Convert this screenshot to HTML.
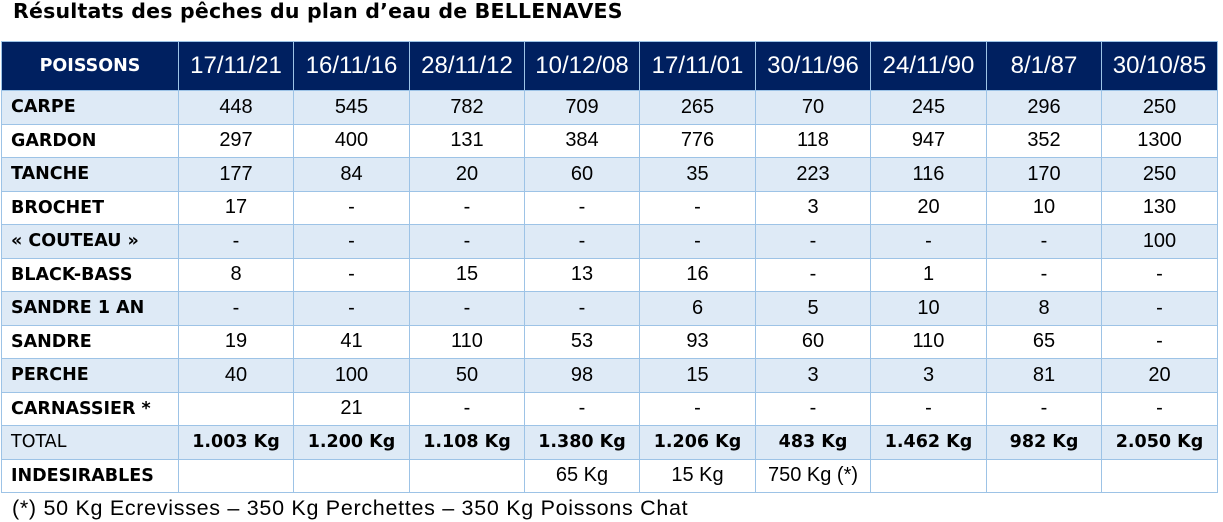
<!DOCTYPE html>
<html><head><meta charset="utf-8"><style>
body{margin:0;width:1223px;height:522px;background:#fff;overflow:hidden;font-family:"DejaVu Sans","Liberation Sans",sans-serif;position:relative}
.title{position:absolute;left:13px;top:-1px;font-size:20.5px;font-weight:bold;color:#000;letter-spacing:0.2px}
table{position:absolute;left:1px;top:41px;border-collapse:collapse;table-layout:fixed}
td{border:1.5px solid #9dc3e6;text-align:center;font-family:"Liberation Sans",sans-serif;font-size:20px;color:#000;padding:0;height:32.5px;white-space:nowrap}
tr.h td{background:#002060;color:#fff;font-size:24px;height:48px;border-color:#9dc3e6}
tr.h td.f{font-family:"DejaVu Sans",sans-serif;font-weight:bold;font-size:17.5px}
td.f{text-align:left;padding-left:9px;font-family:"DejaVu Sans",sans-serif;font-weight:bold;font-size:17.5px}
tr.a td{background:#deeaf6}
td.b{font-family:"DejaVu Sans",sans-serif;font-weight:bold;font-size:17.5px}
.foot{position:absolute;left:12px;top:496px;font-family:"Liberation Sans",sans-serif;font-size:21.5px;letter-spacing:0.7px}
</style></head><body>
<div class="title">Résultats des pêches du plan d’eau de BELLENAVES</div>
<table>
<colgroup><col style="width:177px"><col style="width:115px"><col style="width:116px"><col style="width:115px"><col style="width:115px"><col style="width:116px"><col style="width:115px"><col style="width:116px"><col style="width:115px"><col style="width:116px"></colgroup>
<tr class="h"><td class="f" style="text-align:center;padding-left:0">POISSONS</td><td>17/11/21</td><td>16/11/16</td><td>28/11/12</td><td>10/12/08</td><td>17/11/01</td><td>30/11/96</td><td>24/11/90</td><td>8/1/87</td><td>30/10/85</td></tr>
<tr class="a"><td class="f">CARPE</td><td>448</td><td>545</td><td>782</td><td>709</td><td>265</td><td>70</td><td>245</td><td>296</td><td>250</td></tr>
<tr><td class="f">GARDON</td><td>297</td><td>400</td><td>131</td><td>384</td><td>776</td><td>118</td><td>947</td><td>352</td><td>1300</td></tr>
<tr class="a"><td class="f">TANCHE</td><td>177</td><td>84</td><td>20</td><td>60</td><td>35</td><td>223</td><td>116</td><td>170</td><td>250</td></tr>
<tr><td class="f">BROCHET</td><td>17</td><td>-</td><td>-</td><td>-</td><td>-</td><td>3</td><td>20</td><td>10</td><td>130</td></tr>
<tr class="a"><td class="f">« COUTEAU »</td><td>-</td><td>-</td><td>-</td><td>-</td><td>-</td><td>-</td><td>-</td><td>-</td><td>100</td></tr>
<tr><td class="f">BLACK-BASS</td><td>8</td><td>-</td><td>15</td><td>13</td><td>16</td><td>-</td><td>1</td><td>-</td><td>-</td></tr>
<tr class="a"><td class="f">SANDRE 1 AN</td><td>-</td><td>-</td><td>-</td><td>-</td><td>6</td><td>5</td><td>10</td><td>8</td><td>-</td></tr>
<tr><td class="f">SANDRE</td><td>19</td><td>41</td><td>110</td><td>53</td><td>93</td><td>60</td><td>110</td><td>65</td><td>-</td></tr>
<tr class="a"><td class="f">PERCHE</td><td>40</td><td>100</td><td>50</td><td>98</td><td>15</td><td>3</td><td>3</td><td>81</td><td>20</td></tr>
<tr><td class="f">CARNASSIER *</td><td></td><td>21</td><td>-</td><td>-</td><td>-</td><td>-</td><td>-</td><td>-</td><td>-</td></tr>
<tr class="a"><td class="f" style="font-weight:normal">TOTAL</td><td class="b">1.003 Kg</td><td class="b">1.200 Kg</td><td class="b">1.108 Kg</td><td class="b">1.380 Kg</td><td class="b">1.206 Kg</td><td class="b">483 Kg</td><td class="b">1.462 Kg</td><td class="b">982 Kg</td><td class="b">2.050 Kg</td></tr>
<tr><td class="f">INDESIRABLES</td><td></td><td></td><td></td><td>65 Kg</td><td>15 Kg</td><td>750 Kg (*)</td><td></td><td></td><td></td></tr>
</table>
<div class="foot">(*) 50 Kg Ecrevisses – 350 Kg Perchettes – 350 Kg Poissons Chat</div>
</body></html>
